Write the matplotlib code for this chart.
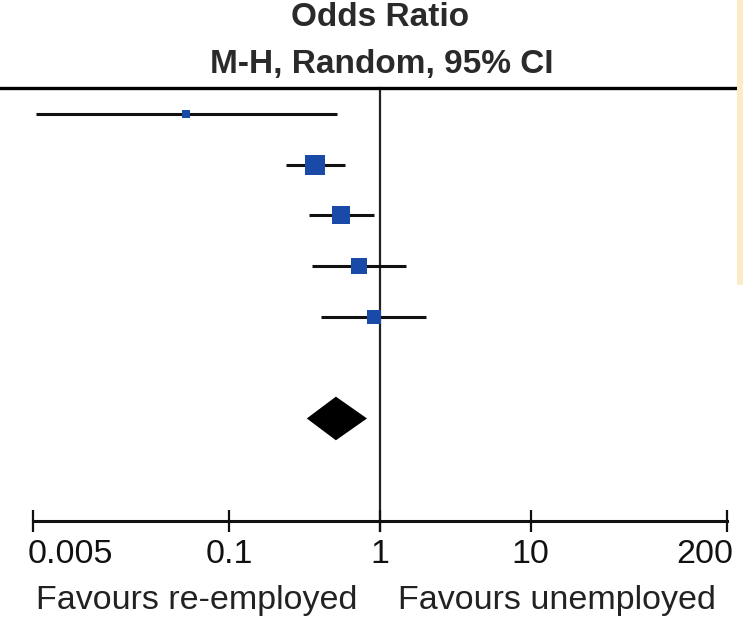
import numpy as np
import matplotlib
matplotlib.use("Agg")
import matplotlib.pyplot as plt
from matplotlib.patches import Rectangle
from matplotlib.transforms import blended_transform_factory, ScaledTranslation

plt.rcParams['font.family'] = ['Liberation Sans', 'DejaVu Sans']

# ---- data ----
odds_ratio = [0.052, 0.370, 0.555, 0.725, 0.912]
ci_low = [0.00526, 0.237, 0.337, 0.353, 0.406]
ci_high = [0.518, 0.585, 0.912, 1.49, 2.02]
weights = [5.0, 31.0, 28.0, 19.8, 16.3]
pooled = [0.327, 0.510, 0.820]  # low, estimate, high
tick_values = [0.005, 0.1, 1, 10, 200]
tick_labels = ['0.005', '0.1', '1', '10', '200']
header = ['Odds Ratio', 'M-H, Random, 95% CI']
favours = ['Favours re-employed', 'Favours unemployed']

W, H = 743, 627
fig = plt.figure(figsize=(W / 100, H / 100), dpi=100)
ax_left, ax_right = 33 / W, 727 / W
ax_top, ax_bot = 1 - 88 / H, 1 - 521 / H
ax = fig.add_axes([ax_left, ax_bot, ax_right - ax_left, ax_top - ax_bot])

ax.set_xscale('log')
ax.set_xlim(tick_values[0], tick_values[-1])
ax.set_ylim(8.02, -0.51)

blue = '#1a4aa8'
rows = np.arange(len(odds_ratio))
for y, o, lo, hi, w in zip(rows, odds_ratio, ci_low, ci_high, weights):
    ax.plot([lo, hi], [y, y], color='#111111', lw=2.2, solid_capstyle='butt', zorder=2)
    side_px = 3.59 * np.sqrt(w)
    ax.plot([o], [y], marker='s', markersize=side_px * 0.72, color=blue,
            markeredgewidth=0, zorder=3)

# pooled diamond
yd = 6.0
half = 0.43
ax.fill([pooled[0], pooled[1], pooled[2], pooled[1]],
        [yd, yd - half, yd, yd + half], color='black', lw=0, zorder=3)

# line of no effect
ax.plot([1, 1], [-0.51, 8.22], color='#222222', lw=1.6, zorder=1, clip_on=False)

# top rule
ax.axhline(-0.51, xmin=(0 - 33) / 694, xmax=(737 - 33) / 694, color='black',
           lw=2.4, clip_on=False)

for s in ['top', 'right', 'left']:
    ax.spines[s].set_visible(False)
ax.spines['bottom'].set_linewidth(2.2)
ax.spines['bottom'].set_color('#111111')
ax.set_yticks([])
ax.set_xticks(tick_values)
ax.set_xticklabels(tick_labels)
ax.xaxis.set_minor_locator(matplotlib.ticker.NullLocator())
ax.tick_params(axis='x', direction='inout', length=16, width=1.6, color='#111111',
               labelsize=24.5, labelcolor='#111111', pad=5)
labels = ax.get_xticklabels()
labels[0].set_horizontalalignment('left')
labels[0].set_transform(labels[0].get_transform() + ScaledTranslation(-5 / 100, 0, fig.dpi_scale_trans))
labels[-1].set_horizontalalignment('right')
labels[-1].set_transform(labels[-1].get_transform() + ScaledTranslation(6 / 100, 0, fig.dpi_scale_trans))

# header text
tr = blended_transform_factory(ax.transData, fig.transFigure)
ax.text(1, 1 - 17 / H, header[0], transform=tr, ha='center', va='center',
        fontsize=24, fontweight='bold', color='#2a2a2a')
ax.text(1.03, 1 - 64 / H, header[1], transform=tr, ha='center', va='center',
        fontsize=24, fontweight='bold', color='#2a2a2a')

# favours labels
ax.annotate(favours[0], xy=(1, 1 - 600 / H), xycoords=tr, xytext=(-16.5, 0),
            textcoords='offset points', ha='right', va='center',
            fontsize=24.5, color='#222222')
ax.annotate(favours[1], xy=(1, 1 - 600 / H), xycoords=tr, xytext=(13, 0),
            textcoords='offset points', ha='left', va='center',
            fontsize=24.5, color='#222222')

# beige strip at right edge
fig.patches.append(Rectangle((737 / W, 1 - 285 / H), 6 / W, 285 / H,
                             transform=fig.transFigure, facecolor='#fcebc8',
                             edgecolor='none', zorder=0))

fig.savefig('out.png', dpi=100)
